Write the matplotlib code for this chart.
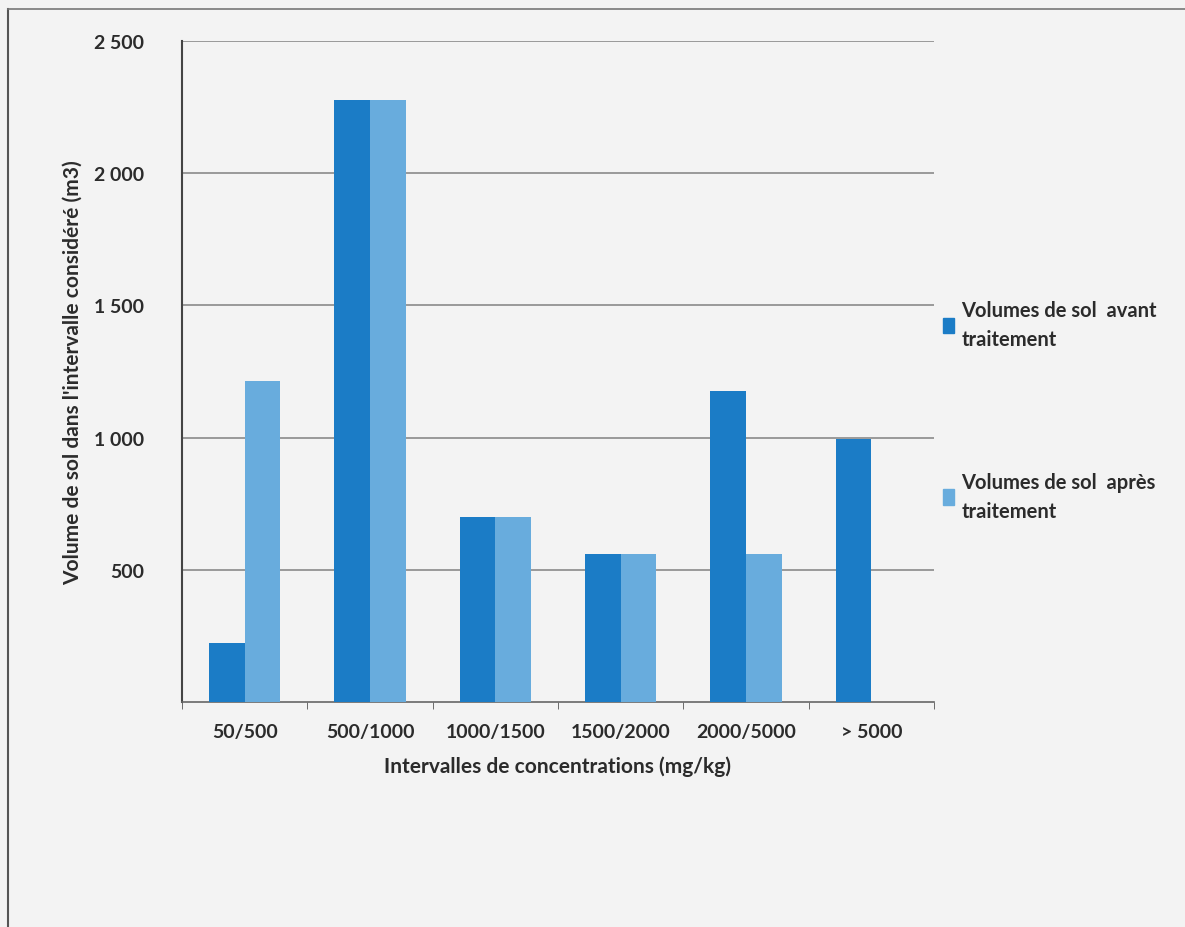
import matplotlib.pyplot as plt
import numpy as np
from matplotlib.lines import Line2D
from matplotlib.patches import Patch

# data
categories = ["50/500", "500/1000", "1000/1500", "1500/2000", "2000/5000", "> 5000"]
avant = [223, 2278, 700, 560, 1177, 995]
apres = [1214, 2276, 700, 560, 560, 0]
yticks = [500, 1000, 1500, 2000, 2500]
ytick_labels = ["500", "1 000", "1 500", "2 000", "2 500"]

c_avant = "#1b7cc6"
c_apres = "#68acdd"
txt = "#2b2b2b"

plt.rcParams['font.family'] = ['Lato', 'DejaVu Sans']
plt.rcParams['font.weight'] = 'bold'

fig = plt.figure(figsize=(11.85, 9.28), dpi=100, facecolor="#f3f3f3")
ax = fig.add_axes([182 / 1185, 1 - 703 / 928, 752 / 1185, 661 / 928])
ax.set_facecolor("#f3f3f3")

x = np.arange(len(categories))
w = 0.285
ax.bar(x - w / 2, avant, w, color=c_avant, zorder=3)
ax.bar(x + w / 2, apres, w, color=c_apres, zorder=3)

ax.set_xlim(-0.5, len(categories) - 0.5)
ax.set_ylim(0, 2500)
ax.set_yticks(yticks)
ax.set_yticklabels(ytick_labels, fontsize=14, color=txt, fontweight='bold')
ax.tick_params(axis='y', length=0, pad=27)
ax.set_xticks(x)
ax.set_xticklabels(categories, fontsize=14, color=txt, fontweight='bold')
ax.tick_params(axis='x', length=0, pad=15)
# small ticks between categories
ax.set_xticks(np.arange(-0.5, len(categories)), minor=True)
ax.tick_params(axis='x', which='minor', length=5, color="#555555")

ax.grid(axis='y', color="#8a8a8a", linewidth=1.2, zorder=0)
for s in ['top', 'right']:
    ax.spines[s].set_visible(False)
ax.spines['left'].set_color("#444444")
ax.spines['left'].set_linewidth(1.5)
ax.spines['bottom'].set_color("#666666")
ax.spines['bottom'].set_linewidth(1.2)

ax.set_xlabel("Intervalles de concentrations (mg/kg)", fontsize=15, color=txt,
              fontweight='bold', labelpad=11)
fig.text(73 / 1185, 1 - 373 / 928, "Volume de sol dans l'intervalle considéré (m3)",
         rotation=90, ha='center', va='center', fontsize=15, color=txt, fontweight='bold')

# legend, placed like the original (entries far apart)
handles = [Patch(color=c_avant), Patch(color=c_apres)]
labels = ["Volumes de sol  avant\ntraitement", "Volumes de sol  après\ntraitement"]
leg = fig.legend(handles, labels, loc='upper left', bbox_to_anchor=(925 / 1185, 1 - 283 / 928),
                 frameon=False, labelspacing=6.1, handlelength=0.55,
                 handleheight=0.8, handletextpad=0.35, labelcolor=txt,
                 prop={'weight': 'bold', 'size': 14.5})
for t in leg.get_texts():
    t.set_linespacing(1.55)

# frame lines of the scanned box
fig.add_artist(Line2D([8 / 1185, 8 / 1185], [0, 1 - 10 / 928], color="#555555", lw=1.5))
fig.add_artist(Line2D([8 / 1185, 1], [1 - 10 / 928, 1 - 10 / 928], color="#777777", lw=1.2))

fig.savefig("out.png", dpi=100, facecolor=fig.get_facecolor())
